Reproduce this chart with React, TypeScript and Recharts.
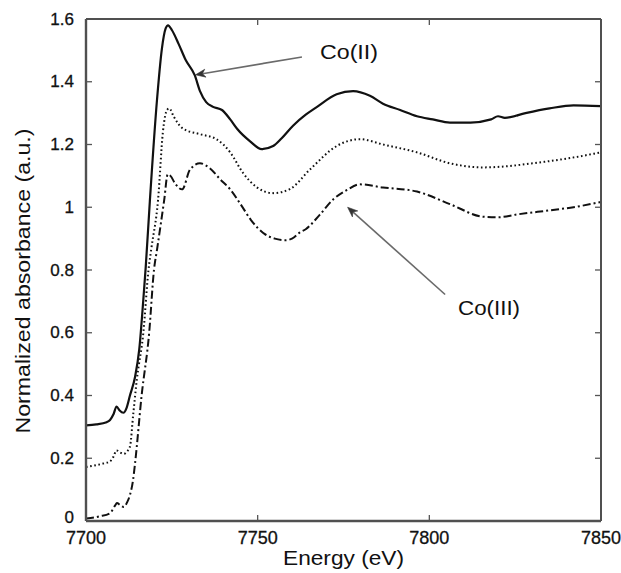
import React from "react";
import { LineChart, Line, XAxis, YAxis, ReferenceLine, ReferenceDot } from "recharts";

// ---- data ----
const co2Energy = [7700, 7703, 7706, 7707, 7708, 7708.9, 7709.8, 7710.9, 7711.8, 7712.8, 7714.3, 7715.5, 7716.7, 7717.4, 7718.6, 7720.7, 7722.1, 7723.2, 7723.9, 7725, 7727, 7729, 7731.7, 7733.2, 7735, 7737, 7739.6, 7742, 7744, 7747.8, 7751.2, 7754.5, 7757, 7760.3, 7764, 7767.3, 7773, 7777.8, 7782.7, 7786.5, 7791.5, 7796.4, 7801, 7806, 7812, 7818, 7820, 7822, 7828, 7835, 7842, 7850];
const co2Values = [0.305, 0.308, 0.315, 0.322, 0.34, 0.365, 0.352, 0.345, 0.36, 0.4, 0.46, 0.546, 0.706, 0.81, 1.02, 1.345, 1.505, 1.57, 1.58, 1.565, 1.52, 1.47, 1.42, 1.37, 1.335, 1.32, 1.31, 1.28, 1.25, 1.21, 1.185, 1.195, 1.22, 1.26, 1.295, 1.32, 1.36, 1.37, 1.355, 1.33, 1.31, 1.29, 1.28, 1.27, 1.27, 1.28, 1.29, 1.285, 1.3, 1.315, 1.325, 1.322];

const midEnergy = [7700, 7703, 7705, 7707, 7708, 7708.9, 7710, 7711, 7712, 7712.8, 7713.8, 7714.8, 7716.7, 7718.2, 7719, 7721, 7722.4, 7723.6, 7724.3, 7725.5, 7728.3, 7733.2, 7738, 7742, 7745.7, 7749.7, 7754.5, 7759.4, 7765.2, 7773, 7779.8, 7786.5, 7796.4, 7806, 7815.6, 7822, 7830, 7840, 7850];
const midValues = [0.172, 0.178, 0.183, 0.19, 0.205, 0.225, 0.218, 0.214, 0.222, 0.237, 0.345, 0.45, 0.6, 0.8, 0.866, 1.025, 1.24, 1.31, 1.315, 1.29, 1.25, 1.233, 1.217, 1.175, 1.11, 1.064, 1.045, 1.058, 1.12, 1.195, 1.217, 1.2, 1.175, 1.14, 1.127, 1.13, 1.14, 1.155, 1.175];

const co3Energy = [7700, 7704, 7707, 7708.5, 7709, 7710, 7711, 7712, 7712.8, 7713.7, 7714.3, 7716.2, 7718.4, 7719.8, 7720.7, 7722.8, 7723.8, 7724.6, 7726, 7728, 7730.3, 7733.2, 7736, 7739, 7742, 7745, 7748, 7752, 7755, 7758, 7760, 7762.3, 7764, 7768, 7772, 7776, 7779.8, 7786.5, 7796.4, 7806, 7815.6, 7820, 7825.5, 7835, 7842, 7850];
const co3Values = [0.008, 0.015, 0.025, 0.05, 0.057, 0.05, 0.045, 0.06, 0.083, 0.13, 0.185, 0.4, 0.6, 0.8, 0.866, 1.025, 1.105, 1.1, 1.075, 1.057, 1.12, 1.14, 1.125, 1.09, 1.057, 1.01, 0.96, 0.915, 0.9, 0.895, 0.9, 0.92, 0.93, 0.975, 1.025, 1.055, 1.073, 1.063, 1.05, 1.01, 0.97, 0.968, 0.977, 0.99, 1.0, 1.017];

const xTicks = [7700, 7750, 7800, 7850];
const yTicks = [0, 0.2, 0.4, 0.6, 0.8, 1, 1.2, 1.4, 1.6];

const co2Label = { text: "Co(II)", x: 7776.6, y: 1.473 };
const co2Arrow = [{ x: 7762.9, y: 1.479 }, { x: 7731.9, y: 1.422 }];
const co3Label = { text: "Co(III)", x: 7817.4, y: 0.658 };
const co3Arrow = [{ x: 7804.6, y: 0.722 }, { x: 7776.2, y: 1.0 }];

const toRows = (xs: number[], ys: number[]) => xs.map((e, i) => ({ e, v: ys[i] }));
const co2Data = toRows(co2Energy, co2Values);
const midData = toRows(midEnergy, midValues);
const co3Data = toRows(co3Energy, co3Values);

const FONT = "'Liberation Sans', Arial, Helvetica, sans-serif";
const TXT = "#111";
const FRAME = "#505050";
const TICKC = "#555";

const LeftTick = (p: any) => {
  const { x, y, payload } = p;
  const v = Number(payload.value);
  return (
    <g>
      <text x={x - 12} y={y + (v === 0 ? 2 : 5.5)} textAnchor="end" fontSize={17} fill={TXT} fontFamily={FONT}
        stroke={TXT} strokeWidth={0.3}>{String(payload.value)}</text>
      {v > 0 && v < 1.6 ? <line x1={x} x2={x + 6} y1={y} y2={y} stroke={TICKC} strokeWidth={1.3} /> : null}
    </g>
  );
};
const RightTick = (p: any) => {
  const { x, y, payload } = p;
  const v = Number(payload.value);
  return v > 0 && v < 1.6 ? <line x1={x} x2={x - 6} y1={y} y2={y} stroke={TICKC} strokeWidth={1.3} /> : <g />;
};
const BottomTick = (p: any) => {
  const { x, y, payload } = p;
  const v = Number(payload.value);
  return (
    <g>
      <text x={x} y={y + 23} textAnchor="middle" fontSize={18} fill={TXT} fontFamily={FONT}
        stroke={TXT} strokeWidth={0.3}>{String(payload.value)}</text>
      {v > 7700 && v < 7850 ? <line x1={x} x2={x} y1={y} y2={y - 6} stroke={TICKC} strokeWidth={1.3} /> : null}
    </g>
  );
};
const TopTick = (p: any) => {
  const { x, y, payload } = p;
  const v = Number(payload.value);
  return v > 7700 && v < 7850 ? <line x1={x} x2={x} y1={y} y2={y + 6} stroke={TICKC} strokeWidth={1.3} /> : <g />;
};

const XTitle = (p: any) => {
  const vb = p.viewBox || { x: 78, y: 513, width: 515, height: 52 };
  return (
    <text x={vb.x + vb.width / 2} y={vb.y + 44} textAnchor="middle" fontSize={20} fill={TXT} fontFamily={FONT}
      textLength={121} lengthAdjust="spacingAndGlyphs">Energy (eV)</text>
  );
};
const YTitle = (p: any) => {
  const vb = p.viewBox || { x: 0, y: 11, width: 78, height: 502 };
  const cx = vb.x + 22;
  const cy = vb.y + vb.height / 2 + 11;
  return (
    <text x={cx} y={cy} transform={`rotate(-90 ${cx} ${cy})`} textAnchor="middle" fontSize={20} fill={TXT}
      fontFamily={FONT} textLength={305} lengthAdjust="spacingAndGlyphs">Normalized absorbance (a.u.)</text>
  );
};

const ArrowShape = (p: any) => {
  const { x1, y1, x2, y2 } = p;
  if ([x1, y1, x2, y2].some((n) => typeof n !== "number" || isNaN(n))) return <g />;
  const a = Math.atan2(y2 - y1, x2 - x1);
  const L = 10, W = 4, N = 7;
  const bx = x2 - L * Math.cos(a), by = y2 - L * Math.sin(a);
  const nx = x2 - N * Math.cos(a), ny = y2 - N * Math.sin(a);
  const px = -Math.sin(a), py = Math.cos(a);
  const d = `M${x2},${y2} L${bx + W * px},${by + W * py} L${nx},${ny} L${bx - W * px},${by - W * py} Z`;
  return (
    <g>
      <line x1={x1} y1={y1} x2={nx} y2={ny} stroke="#6a6a6a" strokeWidth={1.6} />
      <path d={d} fill="#333" stroke="#333" strokeWidth={0.6} />
    </g>
  );
};

const makeLabel = (text: string, len: number) => (p: any) => (
  <text x={p.cx} y={p.cy} textAnchor="middle" fontSize={20} fill={TXT} fontFamily={FONT}
    textLength={len} lengthAdjust="spacingAndGlyphs">{text}</text>
);

export default function App() {
  return (
    <div style={{ position: "fixed", left: 8, top: 8, width: 613, height: 565, background: "#fff" }}>
      <LineChart width={613} height={565} margin={{ top: 10, right: 19, left: 0, bottom: 0 }}>
        <XAxis xAxisId="b" dataKey="e" type="number" domain={[7700, 7850]} ticks={xTicks} interval={0}
          allowDataOverflow orientation="bottom" height={52} tickSize={0} tickMargin={0} tickLine={false}
          axisLine={{ stroke: FRAME, strokeWidth: 2.4 }} tick={<BottomTick />} label={<XTitle />} />
        <XAxis xAxisId="t" dataKey="e" type="number" domain={[7700, 7850]} ticks={xTicks} interval={0}
          allowDataOverflow orientation="top" height={1} tickSize={0} tickMargin={0} tickLine={false}
          axisLine={{ stroke: FRAME, strokeWidth: 2 }} tick={<TopTick />} />
        <YAxis yAxisId="l" dataKey="v" type="number" domain={[0, 1.6]} ticks={yTicks} interval={0}
          allowDataOverflow orientation="left" width={78} tickSize={0} tickMargin={0} tickLine={false}
          axisLine={{ stroke: FRAME, strokeWidth: 2.4 }} tick={<LeftTick />} label={<YTitle />} />
        <YAxis yAxisId="r" dataKey="v" type="number" domain={[0, 1.6]} ticks={yTicks} interval={0}
          allowDataOverflow orientation="right" width={1} tickSize={0} tickMargin={0} tickLine={false}
          axisLine={{ stroke: FRAME, strokeWidth: 2 }} tick={<RightTick />} />

        <Line xAxisId="b" yAxisId="l" data={co3Data} dataKey="v" type="monotone" stroke="#111" strokeWidth={2}
          strokeDasharray="8 3 2 3" dot={false} activeDot={false} isAnimationActive={false} />
        <Line xAxisId="b" yAxisId="l" data={midData} dataKey="v" type="monotone" stroke="#111" strokeWidth={2}
          strokeDasharray="1.6 2.6" dot={false} activeDot={false} isAnimationActive={false} />
        <Line xAxisId="b" yAxisId="l" data={co2Data} dataKey="v" type="monotone" stroke="#111" strokeWidth={2.2}
          dot={false} activeDot={false} isAnimationActive={false} />
        <Line xAxisId="t" yAxisId="r" data={co2Data} dataKey="v" type="monotone" stroke="none" strokeWidth={0}
          dot={false} activeDot={false} isAnimationActive={false} />

        <ReferenceLine xAxisId="b" yAxisId="l" segment={co2Arrow} shape={ArrowShape} ifOverflow="visible" />
        <ReferenceLine xAxisId="b" yAxisId="l" segment={co3Arrow} shape={ArrowShape} ifOverflow="visible" />
        <ReferenceDot xAxisId="b" yAxisId="l" x={co2Label.x} y={co2Label.y} r={0} ifOverflow="visible"
          shape={makeLabel(co2Label.text, 58)} />
        <ReferenceDot xAxisId="b" yAxisId="l" x={co3Label.x} y={co3Label.y} r={0} ifOverflow="visible"
          shape={makeLabel(co3Label.text, 62)} />
      </LineChart>
    </div>
  );
}
